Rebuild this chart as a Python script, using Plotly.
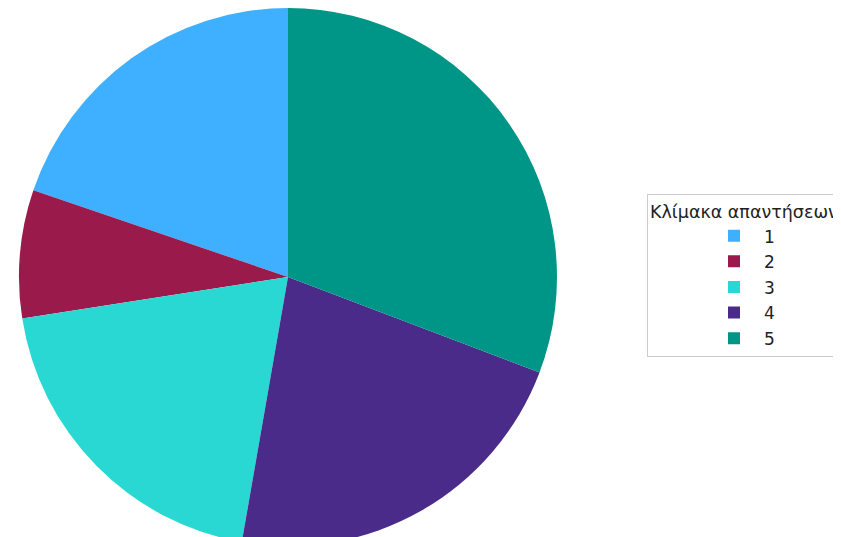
import plotly.graph_objects as go

categories = ["1", "2", "3", "4", "5"]
values = [18, 7, 18, 20, 28]
colors = ["#3fb0ff", "#9a1a4b", "#29d8d3", "#4a2b8a", "#009687"]
legend_title = "Κλίμακα απαντήσεων"

labels = ['<span style="font-size:17px">%s</span>' % c for c in categories]

# first slice starts at 12 o'clock and runs counterclockwise
start_rotation = -360.0 * values[0] / sum(values)

W, H = 860, 538

fig = go.Figure(
    go.Pie(
        labels=labels,
        values=values,
        sort=False,
        direction="counterclockwise",
        rotation=start_rotation,
        marker=dict(colors=colors, line=dict(width=0)),
        textinfo="none",
        hoverinfo="label+value+percent",
        domain=dict(x=[11 / W, 549 / W], y=[0, 1]),
    )
)

fig.update_layout(
    width=W,
    height=H,
    margin=dict(l=0, r=0, t=0, b=0, autoexpand=False),
    paper_bgcolor="white",
    plot_bgcolor="white",
    font=dict(family="DejaVu Sans", color="#222222"),
    legend=dict(
        title=dict(text=legend_title, font=dict(size=17.5, family="DejaVu Sans")),
        font=dict(size=17.4, family="DejaVu Sans"),
        x=639 / W,
        y=0.654,
        xanchor="left",
        yanchor="top",
        bordercolor="#cccccc",
        borderwidth=1,
        bgcolor="white",
        itemwidth=50,
        indentation=56,
    ),
)

fig.write_html("out.html")
